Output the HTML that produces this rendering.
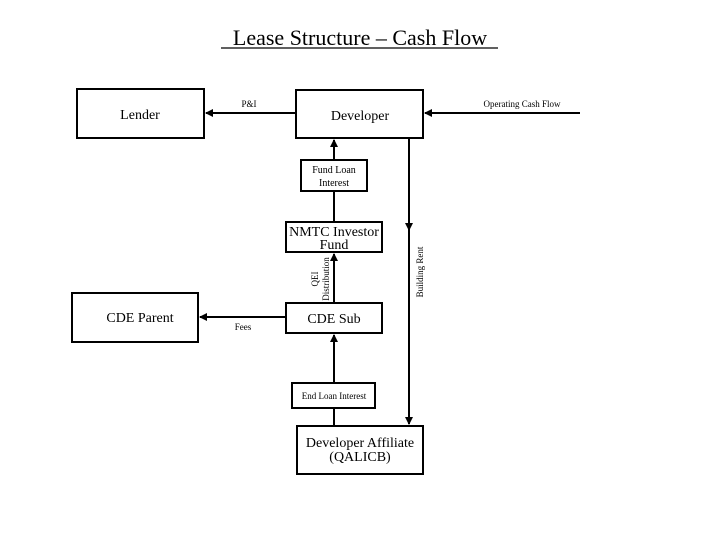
<!DOCTYPE html>
<html><head><meta charset="utf-8"><style>
body{margin:0;background:#fff;}
svg{display:block;font-family:"Liberation Serif",serif;}
</style></head><body>
<svg width="720" height="540" viewBox="0 0 720 540">
<defs><marker id="a" markerWidth="8" markerHeight="8" refX="7" refY="4" orient="auto" markerUnits="userSpaceOnUse"><path d="M0,0 L8,4 L0,8 z" fill="#000"/></marker></defs>
<text x="360" y="45" font-size="22" text-anchor="middle">Lease Structure – Cash Flow</text>
<line x1="221" y1="48" x2="498" y2="48" stroke="#000" stroke-width="1.2"/>
<g fill="none" stroke="#000" stroke-width="2">
<rect x="77" y="89" width="127" height="49"/>
<rect x="296" y="90" width="127" height="48"/>
<rect x="301" y="160" width="66" height="31"/>
<rect x="286" y="222" width="96" height="30"/>
<rect x="286" y="303" width="96" height="30"/>
<rect x="72" y="293" width="126" height="49"/>
<rect x="292" y="383" width="83" height="25"/>
<rect x="297" y="426" width="126" height="48"/>
<line x1="296" y1="113" x2="206" y2="113" marker-end="url(#a)"/>
<line x1="580" y1="113" x2="425" y2="113" marker-end="url(#a)"/>
<line x1="334" y1="160" x2="334" y2="140" marker-end="url(#a)"/>
<line x1="334" y1="191" x2="334" y2="222"/>
<line x1="334" y1="303" x2="334" y2="254" marker-end="url(#a)"/>
<line x1="286" y1="317" x2="200" y2="317" marker-end="url(#a)"/>
<line x1="334" y1="383" x2="334" y2="335" marker-end="url(#a)"/>
<line x1="334" y1="408" x2="334" y2="426"/>
<line x1="409" y1="138" x2="409" y2="230" marker-end="url(#a)"/>
<line x1="409" y1="228" x2="409" y2="424" marker-end="url(#a)"/>
</g>
<g font-size="14" text-anchor="middle">
<text x="140" y="119">Lender</text>
<text x="360" y="120">Developer</text>
<text x="140" y="322">CDE Parent</text>
<text x="334" y="323">CDE Sub</text>
<text x="334" y="236">NMTC Investor</text>
<text x="334" y="249">Fund</text>
<text x="360" y="447">Developer Affiliate</text>
<text x="360" y="461">(QALICB)</text>
</g>
<g font-size="10" text-anchor="middle">
<text x="334" y="173">Fund Loan</text>
<text x="334" y="186">Interest</text>
<text x="334" y="399" font-size="9">End Loan Interest</text>
<text x="249" y="107" font-size="9">P&amp;I</text>
<text x="522" y="107" font-size="9">Operating Cash Flow</text>
<text x="243" y="330" font-size="9">Fees</text>
<text transform="translate(318,279) rotate(-90)" font-size="9">QEI</text>
<text transform="translate(329,279) rotate(-90)" font-size="9">Distribution</text>
<text transform="translate(423,272) rotate(-90)" font-size="9">Building Rent</text>
</g>
</svg>
</body></html>
